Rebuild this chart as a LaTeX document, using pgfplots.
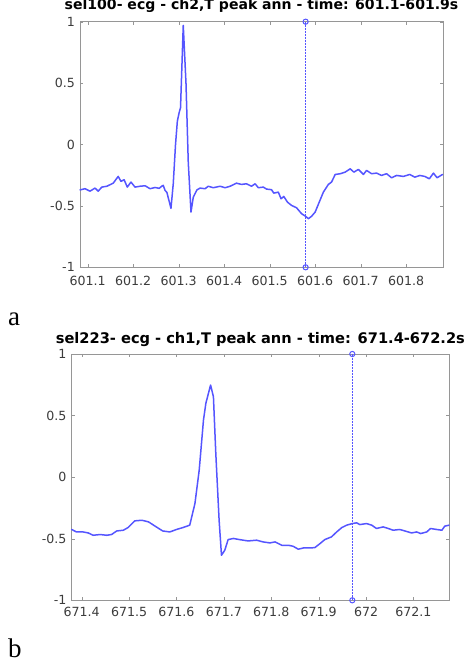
\documentclass[border=0pt]{standalone}
\usepackage{fontspec}
\setmainfont{DejaVu Sans}
\newfontfamily\seriffont{Liberation Serif}
\usepackage{pgfplots}
\usepackage{pgfplotstable}
\pgfplotsset{compat=1.18}
\definecolor{ecg}{RGB}{85,85,255}
\definecolor{axgray}{RGB}{150,150,150}
\definecolor{lblgray}{RGB}{60,60,60}

\pgfplotstableread{
t v
601.083 -0.37
601.094 -0.36
601.105 -0.38
601.116 -0.355
601.123 -0.38
601.131 -0.347
601.142 -0.34
601.156 -0.315
601.167 -0.26
601.173 -0.30
601.180 -0.287
601.187 -0.347
601.195 -0.306
601.204 -0.347
601.215 -0.34
601.226 -0.336
601.237 -0.36
601.248 -0.35
601.257 -0.357
601.263 -0.339
601.266 -0.333
601.270 -0.374
601.274 -0.39
601.283 -0.52
601.288 -0.32
601.293 0.0
601.297 0.19
601.301 0.26
601.304 0.30
601.310 0.97
601.316 0.50
601.321 -0.144
601.327 -0.55
601.332 -0.43
601.340 -0.37
601.347 -0.355
601.358 -0.36
601.365 -0.34
601.376 -0.352
601.391 -0.34
601.402 -0.352
601.413 -0.34
601.427 -0.315
601.438 -0.325
601.449 -0.32
601.460 -0.34
601.468 -0.32
601.475 -0.352
601.486 -0.347
601.493 -0.363
601.504 -0.368
601.509 -0.396
601.519 -0.388
601.525 -0.442
601.531 -0.423
601.539 -0.469
601.548 -0.496
601.559 -0.515
601.570 -0.563
601.579 -0.585
601.585 -0.604
601.592 -0.585
601.600 -0.55
601.609 -0.469
601.618 -0.388
601.629 -0.325
601.636 -0.306
601.644 -0.244
601.655 -0.238
601.666 -0.225
601.677 -0.198
601.685 -0.225
601.695 -0.203
601.706 -0.244
601.713 -0.211
601.724 -0.238
601.735 -0.233
601.746 -0.252
601.757 -0.238
601.768 -0.271
601.779 -0.252
601.794 -0.26
601.808 -0.244
601.819 -0.266
601.830 -0.252
601.841 -0.26
601.851 -0.279
601.860 -0.233
601.868 -0.271
601.880 -0.244
}\dataA

\pgfplotstableread{
t v
671.379 -0.425
671.389 -0.445
671.403 -0.445
671.414 -0.453
671.424 -0.472
671.439 -0.466
671.453 -0.472
671.463 -0.466
671.474 -0.437
671.488 -0.431
671.498 -0.409
671.505 -0.382
671.512 -0.355
671.527 -0.35
671.541 -0.363
671.555 -0.398
671.571 -0.437
671.586 -0.445
671.600 -0.425
671.614 -0.409
671.628 -0.39
671.639 -0.214
671.648 0.057
671.657 0.463
671.662 0.599
671.672 0.748
671.678 0.653
671.683 0.193
671.690 -0.35
671.695 -0.634
671.702 -0.593
671.709 -0.507
671.720 -0.498
671.733 -0.507
671.751 -0.518
671.769 -0.512
671.783 -0.526
671.797 -0.534
671.808 -0.526
671.822 -0.553
671.836 -0.553
671.846 -0.561
671.857 -0.585
671.868 -0.575
671.882 -0.575
671.892 -0.572
671.903 -0.539
671.913 -0.507
671.927 -0.485
671.938 -0.445
671.949 -0.409
671.959 -0.39
671.971 -0.377
671.980 -0.371
671.987 -0.385
672.001 -0.377
672.012 -0.39
672.022 -0.417
672.036 -0.404
672.047 -0.417
672.057 -0.431
672.071 -0.425
672.082 -0.437
672.096 -0.453
672.107 -0.445
672.115 -0.458
672.128 -0.445
672.136 -0.417
672.149 -0.425
672.160 -0.431
672.166 -0.398
672.175 -0.39
}\dataB

\pgfplotsset{
  ecgaxis/.style={
    scale only axis,
    anchor=south west,
    axis line style={axgray},
    major tick style={axgray},
    major tick length=3.5pt,
    tick align=inside,
    ymin=-1, ymax=1,
    ytick={-1,-0.5,0,0.5,1},
    yticklabels={-1,-0.5,0,0.5,1},
    scaled x ticks=false,
    tick label style={font=\fontsize{12.6}{14}\selectfont, text=lblgray},
    yticklabel style={anchor=east, inner sep=0pt, xshift=-5pt},
    clip=false,
  },
  trace/.style={ecg, line width=1.5pt, line join=round, line cap=round},
  annline/.style={ecg, line width=1pt, dash pattern=on 2pt off 1pt, mark=o, mark size=2.6pt, mark options={solid, line width=1pt}},
}

\begin{document}
\begin{tikzpicture}[x=1pt,y=1pt]
\path[use as bounding box] (0,0) rectangle (465,664);

\begin{axis}[ecgaxis,
  at={(80pt,396.7pt)},
  width=363pt, height=245.6pt,
  xmin=601.083, xmax=601.881,
  xtick={601.1,601.2,601.3,601.4,601.5,601.6,601.7,601.8},
  xticklabels={601.1,601.2,601.3,601.4,601.5,601.6,601.7,601.8},
  xticklabel style={anchor=north, inner sep=0pt, yshift=-8.3pt},
  title={sel100- ecg - ch2,T peak ann - time: 601.1-601.9s},
  title style={at={(0.5,1)}, anchor=base, yshift=5.7pt, inner sep=0pt, font=\bfseries\fontsize{14.05}{16}\selectfont},
]
\addplot[trace] table[x=t,y=v] {\dataA};
\addplot[annline] coordinates {(601.579,-1) (601.579,1)};
\end{axis}

\begin{axis}[ecgaxis,
  at={(71.7pt,63.7pt)},
  width=377.3pt, height=246.3pt,
  xmin=671.379, xmax=672.175,
  xtick={671.4,671.5,671.6,671.7,671.8,671.9,672,672.1},
  xticklabels={671.4,671.5,671.6,671.7,671.8,671.9,672,672.1},
  xticklabel style={anchor=north, inner sep=0pt, yshift=-6.5pt},
  title={sel223- ecg - ch1,T peak ann - time: 671.4-672.2s},
  title style={at={(0.5,1)}, anchor=base, yshift=4.7pt, inner sep=0pt, font=\bfseries\fontsize{14.6}{16}\selectfont},
]
\addplot[trace] table[x=t,y=v] {\dataB};
\addplot[annline] coordinates {(671.971,-1) (671.971,1)};
\end{axis}

\node[anchor=base west, inner sep=0pt, font=\seriffont\fontsize{27}{30}\selectfont] at (8,338) {a};
\node[anchor=base west, inner sep=0pt, font=\seriffont\fontsize{27}{30}\selectfont] at (8,6) {b};
\end{tikzpicture}
\end{document}
